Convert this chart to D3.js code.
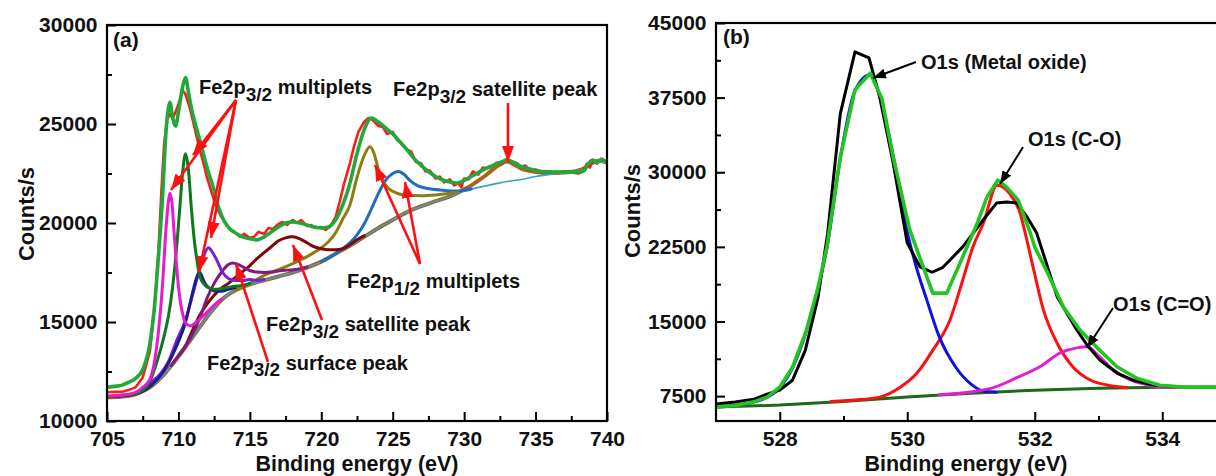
<!DOCTYPE html>
<html><head><meta charset="utf-8">
<script src="https://cdn.jsdelivr.net/npm/d3@7"></script>
<style>
body{margin:0;background:#fff;overflow:hidden;}
svg{display:block;}
text{font-family:"Liberation Sans",Arial,sans-serif;font-weight:bold;fill:#111;}
</style></head><body>
<svg id="c" width="1216" height="476"></svg>
<script>
// ---------- Panel (a): Fe2p spectrum ----------
const feXTicks = [705,710,715,720,725,730,735,740];
const feXMinor = [707.5,712.5,717.5,722.5,727.5,732.5,737.5];
const feYTicks = [10000,15000,20000,25000,30000];
const feYMinor = [12500,17500,22500,27500];

const feRaw = [[705,11450],[705.5,11480],[706,11470],[706.5,11560],[707,11700],[707.5,12200],[708,13500],[708.3,15500],[708.6,18500],[708.8,21500],[709,24000],[709.2,25200],[709.4,25500],[709.6,25300],[709.8,25600],[710,26000],[710.3,26700],[710.5,26500],[710.8,25800],[711,25200],[711.3,24300],[711.5,23700],[711.8,22900],[712,22300],[712.3,21600],[712.6,20900],[713,20300],[713.3,20000],[713.6,19700],[714,19500],[714.3,19300],[714.6,19450],[715,19250],[715.3,19300],[715.6,19550],[716,19450],[716.3,19750],[716.6,19700],[717,19950],[717.3,20050],[717.6,19900],[718,20150],[718.3,20000],[718.6,20150],[719,19850],[719.3,19900],[719.6,19750],[720,19800],[720.3,19650],[720.6,19800],[721,20300],[721.3,21100],[721.6,22000],[722,23000],[722.3,23900],[722.6,24600],[723,25100],[723.3,25300],[723.6,25200],[724,24900],[724.3,24850],[724.6,24500],[725,24600],[725.3,24200],[725.6,24050],[726,23700],[726.3,23600],[726.6,23100],[727,23000],[727.3,22600],[727.6,22650],[728,22250],[728.3,22350],[728.6,22050],[729,22200],[729.3,21900],[729.6,22000],[729.8,21800],[730,22250],[730.3,22200],[730.6,22600],[731,22450],[731.3,22800],[731.6,22750],[732,22900],[732.3,23050],[732.6,23000],[733,23250],[733.3,23100],[733.6,23050],[734,22850],[734.3,22900],[734.6,22650],[735,22700],[735.5,22550],[736,22600],[736.5,22500],[737,22600],[737.5,22550],[738,22500],[738.3,22600],[738.6,23000],[738.8,22800],[739,23150],[739.3,23000],[739.6,23250],[740,23100]];

const feEnvelope = [[705,11700],[705.5,11750],[706,11800],[706.5,11950],[707,12150],[707.5,12600],[708,13900],[708.3,15600],[708.6,18300],[708.9,21500],[709.1,24300],[709.3,25800],[709.4,26100],[709.6,25300],[709.8,24900],[710,25600],[710.3,26900],[710.5,27350],[710.7,26600],[711,25500],[711.3,24700],[711.6,23900],[712,22800],[712.4,21900],[712.8,20800],[713.2,20100],[713.6,19700],[714,19500],[714.5,19300],[715,19200],[715.5,19150],[716,19300],[716.5,19550],[717,19800],[717.5,20000],[718,20050],[718.5,20000],[719,19900],[719.5,19800],[720,19750],[720.5,19800],[721,20150],[721.5,20900],[722,22000],[722.5,23500],[723,24700],[723.5,25300],[724,25100],[724.5,24800],[725,24500],[725.5,24100],[726,23700],[726.5,23250],[727,22900],[727.5,22600],[728,22350],[728.5,22170],[729,22070],[729.5,22020],[730,22150],[730.5,22350],[731,22550],[731.5,22750],[732,22900],[732.5,23050],[733,23180],[733.5,23050],[734,22850],[734.5,22750],[735,22650],[736,22580],[737,22570],[738,22580],[738.4,22650],[738.7,23000],[739,23180],[739.3,23050],[739.6,23200],[740,23080]];

const feBackground = [[705,11200],[706,11230],[707,11350],[707.5,11500],[708,11700],[708.5,12000],[709,12350],[709.5,12800],[710,13250],[710.5,13750],[711,14250],[711.5,14750],[712,15250],[712.5,15700],[713,16100],[713.5,16400],[714,16600],[715,16900],[716,17100],[717,17300],[718,17500],[719,17750],[720,18050],[721,18450],[722,18850],[723,19300],[724,19750],[725,20150],[726,20550],[727,20850],[728,21100],[729,21350],[730,21600],[731,21800],[732,21950],[733,22100],[734,22200],[735,22350],[736,22450],[737,22550],[738,22650],[738.5,22750],[739,23000],[739.5,23100],[740,23000]];

const feSat733 = [[705,11200],[706,11230],[707,11350],[707.5,11500],[708,11700],[708.5,12000],[709,12350],[709.5,12800],[710,13250],[710.5,13750],[711,14250],[711.5,14750],[712,15250],[712.5,15700],[713,16100],[713.5,16400],[714,16600],[715,16900],[716,17100],[717,17300],[718,17500],[719,17750],[720,18050],[721,18450],[722,18850],[723,19300],[724,19750],[725,20150],[726,20550],[727,20850],[728,21100],[729,21350],[729.5,21500],[730,21700],[730.5,21900],[731,22150],[731.5,22400],[732,22700],[732.5,22950],[733,23100],[733.5,22950],[734,22750],[734.5,22650],[735,22580],[736,22530],[737,22550],[738,22650],[738.5,22800],[739,23050],[739.5,23150],[740,23050]];

const feMagenta709 = [[705,11250],[706,11300],[707,11450],[707.5,11700],[708,12100],[708.3,12900],[708.6,14500],[708.9,17000],[709.1,19400],[709.3,21100],[709.4,21500],[709.55,21000],[709.7,19500],[709.9,17600],[710.1,16200],[710.3,15400],[710.5,14950],[710.8,14800],[711,14850],[711.5,15150],[712,15500],[712.5,15850],[713,16150]];

const feDkGreen710 = [[705,11250],[706,11300],[707,11380],[707.5,11550],[708,12000],[708.5,13000],[709,14300],[709.3,15300],[709.6,16800],[709.9,19000],[710.1,20800],[710.3,22600],[710.5,23500],[710.7,22700],[710.9,20800],[711.1,19200],[711.3,18100],[711.5,17300],[711.8,16900],[712.2,16700],[712.7,16650],[713.2,16700],[713.8,16800],[714.5,16850],[715,16950]];

const feNavy711 = [[705,11220],[707,11360],[708,11750],[709,12550],[709.5,13200],[710,14000],[710.5,15000],[710.8,15900],[711.1,16800],[711.3,17300],[711.5,17500],[711.7,17200],[711.9,16900],[712.2,16700],[712.6,16550],[713,16550],[713.5,16650],[714,16750]];

const feViolet712 = [[705,11220],[707,11400],[707.5,11600],[708,11900],[708.7,12350],[709.3,13000],[709.9,14100],[710.5,15100],[711,16400],[711.5,17700],[711.8,18400],[712.1,18750],[712.4,18500],[712.7,18100],[713.1,17500],[713.5,17200],[714,17100],[714.5,17100],[715,17150],[715.5,17100],[716,17150]];

const fePurple714 = [[709.5,12800],[710,13300],[710.5,13800],[711,14400],[711.5,15200],[712,16200],[712.5,16950],[713,17500],[713.5,17900],[713.8,17980],[714.2,17900],[714.6,17750],[715,17600],[715.5,17520],[716,17500],[716.5,17520],[717,17580],[717.6,17620],[718.2,17650],[719,17780]];

const feMaroon718 = [[710,13300],[710.5,13800],[711,14600],[711.5,15350],[712,15900],[712.5,16350],[713,16700],[713.5,16950],[714,17250],[714.5,17550],[715,17850],[715.5,18200],[716,18500],[716.5,18800],[717,19100],[717.5,19250],[718,19300],[718.5,19200],[719,19000],[719.5,18800],[720,18700],[720.5,18650],[721,18650],[721.5,18700],[722,18900],[722.5,19150],[723,19350]];

const feOlive723 = [[714,16620],[715,16950],[716,17350],[717,17650],[718,17950],[719,18300],[720,18750],[720.5,19050],[721,19500],[721.5,20200],[722,20900],[722.5,22300],[723,23400],[723.4,23850],[723.7,23500],[724,22700],[724.3,22150],[724.7,21750],[725,21600],[725.5,21450],[726,21400],[727,21380],[728,21420],[729,21500],[729.5,21550]];

const feBlue725 = [[720,18050],[721,18450],[721.5,18700],[722,19000],[722.5,19400],[723,19950],[723.5,20700],[724,21500],[724.5,22150],[725,22500],[725.4,22600],[725.8,22450],[726.2,22150],[726.7,21900],[727.2,21780],[727.8,21700],[728.5,21650],[729,21620],[729.5,21620],[730,21650],[730.5,21720]];

// annotations of panel (a): label parts and anchor in data units
const feLabels = [
  {main:"Fe2p", sub:"3/2", rest:" multiplets", x:711.44, y:26515},
  {main:"Fe2p", sub:"3/2", rest:" satellite peak", x:725.02, y:26414},
  {main:"Fe2p", sub:"1/2", rest:" multiplets", x:721.8, y:16717},
  {main:"Fe2p", sub:"3/2", rest:" satellite peak", x:716.13, y:14545},
  {main:"Fe2p", sub:"3/2", rest:" surface peak", x:712.0, y:12576}
];
const feArrows = [
  [[714.03,26212],[711.02,23434]],
  [[714.03,26212],[709.48,21667]],
  [[714.03,26212],[712.28,19242]],
  [[714.03,26212],[711.44,17525]],
  [[733.07,26061],[733.07,23081]],
  [[726.91,17929],[723.76,22929]],
  [[726.91,17929],[725.86,22071]],
  [[720.05,15101],[718.02,18889]],
  [[716.27,12980],[714.03,17929]]
];
const fePanelTag = {text:"(a)", x:705.42, y:28889};

// ---------- Panel (b): O1s spectrum ----------
const oXTicks = [528,530,532,534];
const oXMinor = [529,531,533,535];
const oYTicks = [7500,15000,22500,30000,37500,45000];
const oYMinor = [11250,18750,26250,33750,41250];

const oRaw = [[527,6700],[527.3,6900],[527.6,7200],[527.8,7700],[528,8100],[528.2,9100],[528.4,12100],[528.6,17400],[528.75,23800],[528.95,35900],[529.18,42100],[529.4,41500],[529.57,37500],[529.78,30900],[530,22900],[530.2,20500],[530.39,19950],[530.56,20450],[530.87,22500],[531.19,25200],[531.4,26900],[531.56,27000],[531.72,26900],[531.88,25500],[532.03,23900],[532.35,17500],[532.66,14150],[532.82,12640],[533.02,11130],[533.29,9820],[533.54,9120],[533.86,8620],[534.2,8450]];

const oEnvelope = [[527,6400],[527.3,6550],[527.58,6900],[527.8,7400],[528,8400],[528.2,10400],[528.42,14150],[528.6,18400],[528.74,22500],[528.95,31500],[529.18,38300],[529.42,39950],[529.6,37450],[529.78,31500],[530.04,24200],[530.4,17850],[530.62,17850],[530.83,20900],[531.1,24900],[531.25,27500],[531.42,29200],[531.56,28500],[531.74,27200],[531.93,23900],[532,22500],[532.2,19900],[532.45,16450],[532.71,14150],[532.98,12350],[533.29,10450],[533.6,9300],[533.96,8600],[534.33,8420],[535,8400]];

const oMetalOxide = [[527,6400],[527.58,6880],[527.8,7380],[528,8350],[528.2,10350],[528.42,14100],[528.6,18300],[528.74,22400],[528.95,31400],[529.18,38200],[529.42,39800],[529.6,36900],[529.8,31000],[530,24000],[530.15,20300],[530.3,17300],[530.5,13500],[530.75,10500],[531,8700],[531.2,8000],[531.4,7900]];

const oCO = [[528.8,6950],[529.26,7150],[529.57,7400],[529.89,8400],[530.15,9800],[530.4,12100],[530.67,15150],[530.87,19150],[531.03,22500],[531.19,24800],[531.41,28700],[531.6,27900],[531.77,25900],[531.85,23900],[531.98,20300],[532.13,16300],[532.35,12840],[532.6,10430],[532.87,9120],[533.13,8620],[533.45,8350]];

const oCdO = [[530.5,7650],[531.03,7950],[531.35,8350],[531.72,9350],[532.08,10450],[532.4,11850],[532.66,12350],[532.82,12450],[533.02,11450],[533.23,10150],[533.49,9150],[533.76,8650],[534,8420],[534.3,8400]];

const oBaseline = [[527,6400],[528,6600],[529,6950],[530,7400],[531,7800],[532,8100],[533,8300],[534,8400],[535,8420]];

const oLabels = [
  {text:"O1s (Metal oxide)", x:530.216, y:40376},
  {text:"O1s (C-O)", x:531.894, y:32638},
  {text:"O1s (C=O)", x:533.227, y:16055}
];
const oArrows = [
  [[530.137,41080],[529.463,39472]],
  [[531.816,32537],[531.455,28819]],
  [[533.227,16357],[532.82,12337]]
];
const oPanelTag = {text:"(b)", x:527.11, y:42889};

const axisTitleX = "Binding energy (eV)";
const axisTitleY = "Counts/s";

// ---------- drawing ----------
const svg = d3.select("#c");
const defs = svg.append("defs");
function marker(id, color, len, half){
  defs.append("marker").attr("id", id).attr("viewBox", `${-len} ${-half} ${len} ${2*half}`)
    .attr("refX", 0).attr("refY", 0).attr("markerUnits", "userSpaceOnUse")
    .attr("markerWidth", len).attr("markerHeight", 2*half).attr("orient", "auto")
    .append("path").attr("d", `M0,0L${-len},${-half}L${-len},${half}Z`).attr("fill", color);
}
marker("headRed", "#ff1010", 16, 6);
marker("headBlack", "#000", 13, 5);

function panel(cfg){
  const {x, y, left, right, top, bottom} = cfg;
  const g = svg.append("g");
  const clipId = "clip" + cfg.id;
  defs.append("clipPath").attr("id", clipId).append("rect")
    .attr("x", left).attr("y", top).attr("width", right - left).attr("height", bottom - top);
  const plot = g.append("g").attr("clip-path", `url(#${clipId})`);

  cfg.series.forEach(s => {
    const line = d3.line().x(d => x(d[0])).y(d => y(d[1])).curve(s.curve || d3.curveMonotoneX);
    plot.append("path").datum(s.data).attr("d", line).attr("fill", "none")
      .attr("stroke", s.color).attr("stroke-width", s.w).attr("stroke-linejoin", "round").attr("stroke-linecap", "round");
  });

  // axes
  const styleAxis = sel => { sel.select(".domain").remove(); sel.selectAll("line").attr("stroke", "#000").attr("stroke-width", 2);
    sel.selectAll("text").style("font-size", "21px").attr("fill", "#111"); };
  g.append("g").attr("transform", `translate(0,${bottom})`)
    .call(d3.axisBottom(x).tickValues(cfg.xTicks).tickFormat(d3.format("d")).tickSizeInner(-9).tickSizeOuter(0).tickPadding(10.5))
    .call(styleAxis);
  g.append("g").attr("transform", `translate(0,${bottom})`)
    .call(d3.axisBottom(x).tickValues(cfg.xMinor).tickFormat("").tickSizeInner(-5).tickSizeOuter(0))
    .call(styleAxis);
  g.append("g").attr("transform", `translate(${left},0)`)
    .call(d3.axisLeft(y).tickValues(cfg.yTicks).tickFormat(d3.format("d")).tickSizeInner(-9).tickSizeOuter(0).tickPadding(9.5))
    .call(styleAxis);
  g.append("g").attr("transform", `translate(${left},0)`)
    .call(d3.axisLeft(y).tickValues(cfg.yMinor).tickFormat("").tickSizeInner(-5).tickSizeOuter(0))
    .call(styleAxis);

  // frame
  g.append("rect").attr("x", left).attr("y", top).attr("width", right - left).attr("height", bottom - top)
    .attr("fill", "none").attr("stroke", "#000").attr("stroke-width", 2.2);

  // titles
  g.append("text").attr("x", cfg.titleXpos).attr("y", 471).attr("text-anchor", "middle")
    .style("font-size", "21.5px").text(axisTitleX);
  g.append("text").attr("transform", `translate(${cfg.titleYx},${cfg.titleYy}) rotate(-90)`).attr("text-anchor", "middle")
    .style("font-size", "22px").text(axisTitleY);

  // panel tag
  g.append("text").attr("x", x(cfg.tag.x)).attr("y", y(cfg.tag.y)).style("font-size", "21px").text(cfg.tag.text);

  // arrows
  cfg.arrows.forEach(a => {
    g.append("line").attr("x1", x(a[0][0])).attr("y1", y(a[0][1])).attr("x2", x(a[1][0])).attr("y2", y(a[1][1]))
      .attr("stroke", cfg.arrowColor).attr("stroke-width", cfg.arrowW).attr("marker-end", `url(#${cfg.marker})`);
  });

  // labels
  cfg.labels.forEach(l => {
    const t = g.append("text").attr("x", x(l.x)).attr("y", y(l.y)).style("font-size", "20px");
    if (l.main) {
      t.append("tspan").text(l.main);
      t.append("tspan").attr("dy", 6.5).style("font-size", "19px").text(l.sub);
      t.append("tspan").attr("dy", -6.5).text(l.rest);
    } else {
      t.text(l.text);
    }
  });
}

// panel (a)
const xa = d3.scaleLinear().domain([705, 740]).range([107, 607]);
const ya = d3.scaleLinear().domain([10000, 30000]).range([421, 25]);
panel({
  id: "a", x: xa, y: ya, left: 107, right: 607, top: 25, bottom: 421,
  xTicks: feXTicks, xMinor: feXMinor, yTicks: feYTicks, yMinor: feYMinor,
  titleXpos: 357, titleYx: 34, titleYy: 214,
  tag: fePanelTag, arrows: feArrows, labels: feLabels, arrowColor: "#ff1010", arrowW: 2.6, marker: "headRed",
  series: [
    {data: feSat733, color: "#a8641e", w: 4},
    {data: feBackground, color: "#3aa0c8", w: 1.6},
    {data: feBlue725, color: "#1e6ec0", w: 3},
    {data: feOlive723, color: "#8c7d10", w: 3},
    {data: feMaroon718, color: "#7a0a0a", w: 3},
    {data: fePurple714, color: "#801a80", w: 3},
    {data: feViolet712, color: "#7a1fd6", w: 3},
    {data: feNavy711, color: "#1c1c8c", w: 3},
    {data: feDkGreen710, color: "#0b7a1b", w: 3},
    {data: feMagenta709, color: "#e81ad0", w: 3},
    {data: feRaw, color: "#ff1a1a", w: 2.6, curve: d3.curveLinear},
    {data: feEnvelope, color: "#22a83a", w: 3.6}
  ]
});

// panel (b)
const xb = d3.scaleLinear().domain([527, 535]).range([716, 1226]);
const yb = d3.scaleLinear().domain([5000, 45000]).range([421, 23]);
panel({
  id: "b", x: xb, y: yb, left: 716, right: 1226, top: 23, bottom: 421,
  xTicks: oXTicks, xMinor: oXMinor, yTicks: oYTicks, yMinor: oYMinor,
  titleXpos: 966, titleYx: 640, titleYy: 211,
  tag: oPanelTag, arrows: oArrows, labels: oLabels, arrowColor: "#000", arrowW: 2, marker: "headBlack",
  series: [
    {data: oBaseline, color: "#1a6a1a", w: 3, curve: d3.curveLinear},
    {data: oCO, color: "#ff1010", w: 3},
    {data: oMetalOxide, color: "#1010e0", w: 3},
    {data: oCdO, color: "#e020d0", w: 3},
    {data: oRaw, color: "#000", w: 3, curve: d3.curveLinear},
    {data: oEnvelope, color: "#22c422", w: 3.6, curve: d3.curveLinear}
  ]
});
</script>
</body></html>
